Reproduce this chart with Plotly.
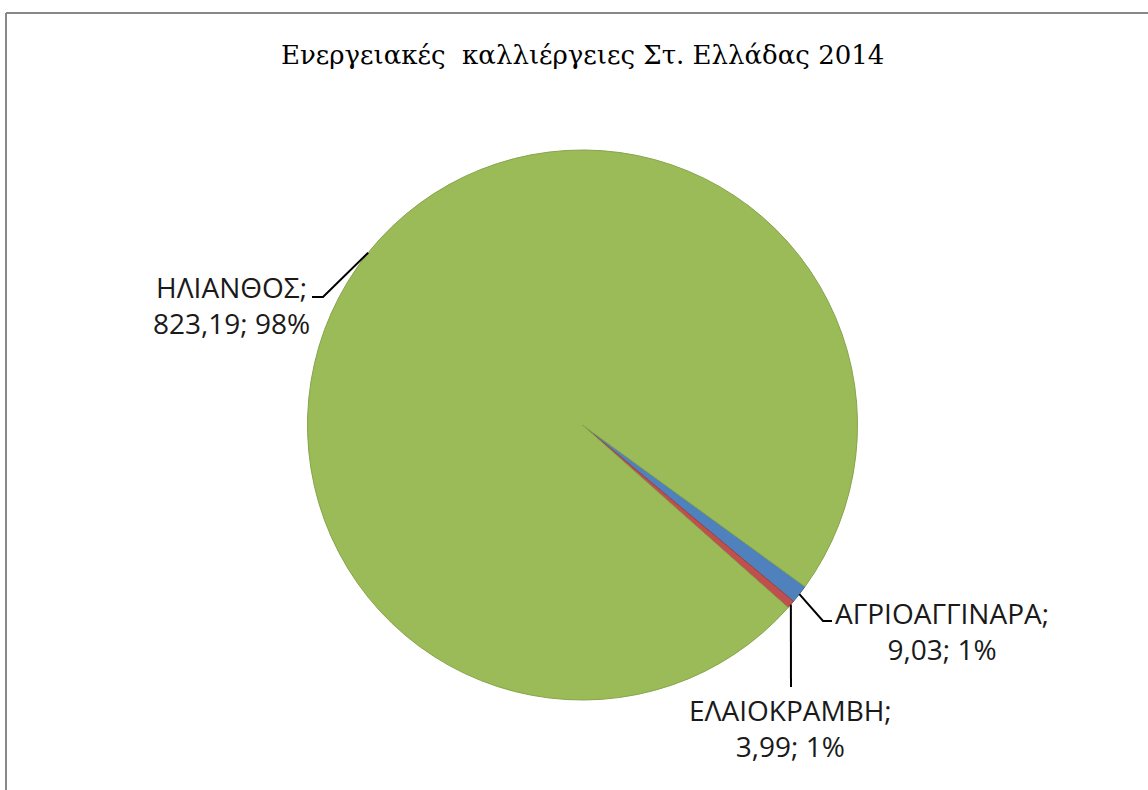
import math
import plotly.graph_objects as go

# Energy crops, Central Greece 2014
crops = ["ΑΓΡΙΟΑΓΓΙΝΑΡΑ", "ΕΛΑΙΟΚΡΑΜΒΗ", "ΗΛΙΑΝΘΟΣ"]
areas = [9.03, 3.99, 823.19]
value_text = ["9,03", "3,99", "823,19"]
pct_text = ["1%", "1%", "98%"]

colors = ["#4F81BD", "#C0504D", "#9BBB59"]
edge_colors = ["#3F6A9E", "#A03F3C", "#86A449"]

W, H = 1148, 790
CX, CY, R = 582.5, 425.0, 275.0   # pie centre / radius in pixels
ROTATION = 126.0                   # start angle, clockwise from 12 o'clock

# label anchor (centre of text block) and elbow of leader line, in pixels
label_pos = [(942, 631), (791, 728), (231, 305)]
elbow_pts = [[(823, 621), (832, 621)], [(791, 687)], [(323, 297), (312, 297)]]


def px(x):
    return x / W


def py(y):
    return 1 - y / H


fig = go.Figure()
fig.add_trace(go.Pie(
    labels=crops,
    values=areas,
    sort=False,
    direction="clockwise",
    rotation=ROTATION,
    textinfo="none",
    hoverinfo="label+value+percent",
    marker=dict(colors=colors, line=dict(color=edge_colors, width=1)),
    domain=dict(x=[px(CX - R), px(CX + R)], y=[py(CY + R), py(CY - R)]),
    showlegend=False,
))

shapes = []
annotations = []
total = sum(areas)
start = ROTATION
for i, v in enumerate(areas):
    span = 360.0 * v / total
    mid = math.radians(start + span / 2)
    start += span
    ex = CX + R * math.sin(mid)
    ey = CY - R * math.cos(mid)
    pts = [(ex, ey)] + elbow_pts[i]
    path = "M " + " L ".join(f"{px(x):.5f},{py(y):.5f}" for x, y in pts)
    shapes.append(dict(type="path", xref="paper", yref="paper", path=path,
                       line=dict(color="#000000", width=2)))
    lx, ly = label_pos[i]
    annotations.append(dict(
        x=px(lx), y=py(ly), xref="paper", yref="paper",
        text=f"{crops[i]};<br>{value_text[i]}; {pct_text[i]}",
        showarrow=False, align="center", xanchor="center", yanchor="middle",
        font=dict(family="Open Sans, Noto Sans, sans-serif", size=28, color="#1a1a1a"),
    ))

# chart frame
shapes.append(dict(type="line", xref="paper", yref="paper",
                   x0=px(6), y0=py(13), x1=1.0, y1=py(13),
                   line=dict(color="#888888", width=2)))
shapes.append(dict(type="line", xref="paper", yref="paper",
                   x0=px(6), y0=py(13), x1=px(6), y1=0.0,
                   line=dict(color="#888888", width=2)))

annotations.append(dict(
    x=px(582), y=py(55), xref="paper", yref="paper",
    text="Ενεργειακές  καλλιέργειες Στ. Ελλάδας 2014",
    showarrow=False, xanchor="center", yanchor="middle",
    font=dict(family="DejaVu Serif, serif", size=26, color="#000000"),
))

fig.update_layout(
    width=W, height=H,
    margin=dict(l=0, r=0, t=0, b=0),
    paper_bgcolor="#FFFFFF",
    plot_bgcolor="#FFFFFF",
    shapes=shapes,
    annotations=annotations,
)

fig.write_html("out.html")
